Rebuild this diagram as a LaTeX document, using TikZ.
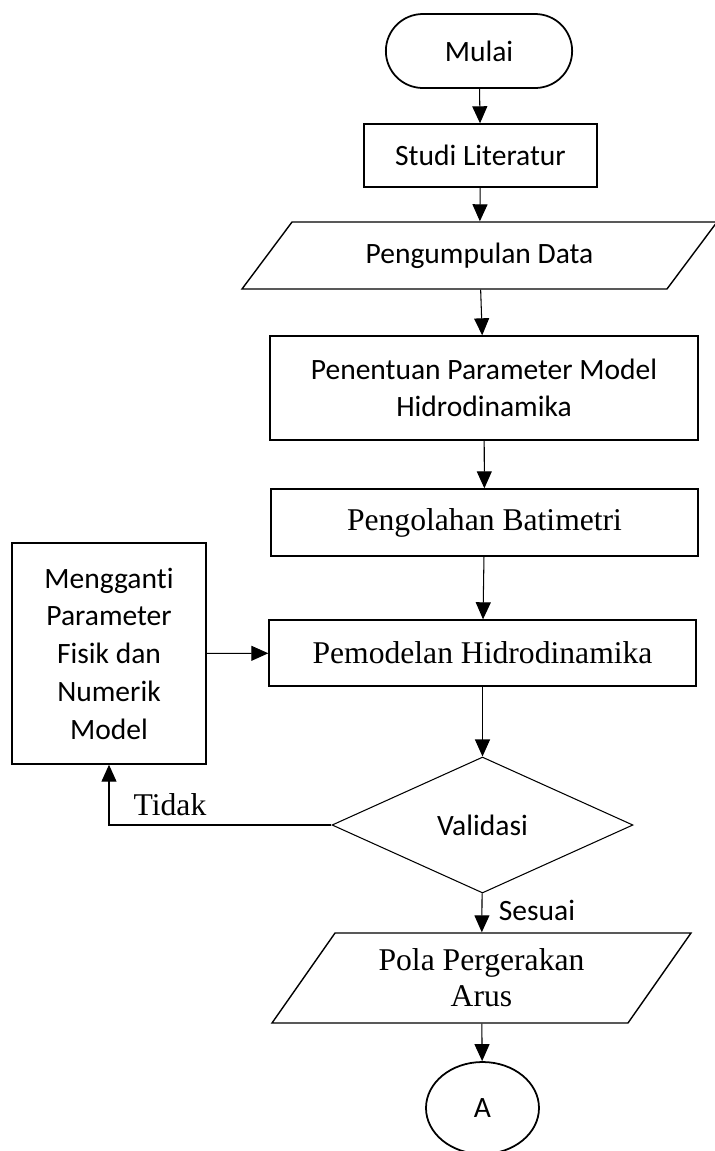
\documentclass[tikz,border=0pt]{standalone}
\usepackage{fontspec}
\setmainfont{Carlito}[Ligatures=NoCommon]
\newfontfamily\timesfont{Liberation Serif}
\usetikzlibrary{shapes.geometric,shapes.misc,arrows.meta}

\begin{document}
\begin{tikzpicture}[
		every node/.style={draw, line width=0.8pt, align=center, font=\fontsize{16.8}{21}\selectfont},
		serif/.style={font=\timesfont\fontsize{18}{20.5}\selectfont},
		masukan/.style={trapezium, trapezium stretches body},
		ket/.style={draw=none},
		panah/.style={-{Triangle[length=0.34cm, width=0.3cm]}, line width=0.6pt}
	]
  \useasboundingbox (0cm, 0cm) rectangle (14.3cm, -23.02cm);
  \node (mulai) [rounded rectangle, minimum width=3.96cm, minimum height=1.48cm, line width=1pt] at (9.58cm, -1.02cm) {Mulai};
  \node (studi) [rectangle, minimum width=4.66cm, minimum height=1.26cm] at (9.61cm, -3.11cm) {Studi Literatur};
  \node (data) [masukan, trapezium left angle=36.7, trapezium right angle=143.3, minimum width=9.5cm, minimum height=1.34cm] at (9.59cm, -5.11cm) {Pengumpulan Data};
  \node (penentuan) [rectangle, minimum width=8.56cm, minimum height=2.08cm] at (9.68cm, -7.76cm) {Penentuan Parameter Model\\Hidrodinamika};
  \node (batimetri) [rectangle, serif, minimum width=8.54cm, minimum height=1.34cm] at (9.69cm, -10.45cm) {Pengolahan Batimetri};
  \node (pemodelan) [rectangle, serif, minimum width=8.54cm, minimum height=1.32cm] at (9.65cm, -13.06cm) {Pemodelan Hidrodinamika};
  \node (mengganti) [rectangle, font=\fontsize{16.8}{21.5}\selectfont, minimum width=3.88cm, minimum height=4.42cm] at (2.18cm, -13.07cm) {Mengganti\\Parameter\\Fisik dan\\Numerik\\Model};
  \node (validasi) [diamond, line width=0.6pt, minimum width=6.02cm, minimum height=2.72cm] at (9.65cm, -16.5cm) {Validasi};
  \node (pola) [masukan, serif, trapezium left angle=48, trapezium right angle=132, minimum width=8.38cm, minimum height=1.8cm] at (9.63cm, -19.56cm) {Pola Pergerakan\\Arus};
  \node (a) [ellipse, line width=1pt, minimum width=2.26cm, minimum height=1.84cm] at (9.65cm, -22.16cm) {A};
  \node (tidak) [ket, serif] at (3.4cm, -16.1cm) {Tidak};
  \node (sesuai) [ket] at (10.74cm, -18.2cm) {Sesuai};
  \draw (mulai) edge[panah] (studi);
  \draw (studi) edge[panah] (data);
  \draw (data) edge[panah] (penentuan);
  \draw (penentuan) edge[panah] (batimetri);
  \draw (batimetri) edge[panah] (pemodelan);
  \draw (mengganti) edge[panah] (pemodelan);
  \draw (pemodelan) edge[panah] (validasi);
  \draw (validasi) edge[panah] (pola);
  \draw (pola) edge[panah] (a);
  \draw[panah] (validasi.west) -| (mengganti.south);
\end{tikzpicture}
\end{document}
